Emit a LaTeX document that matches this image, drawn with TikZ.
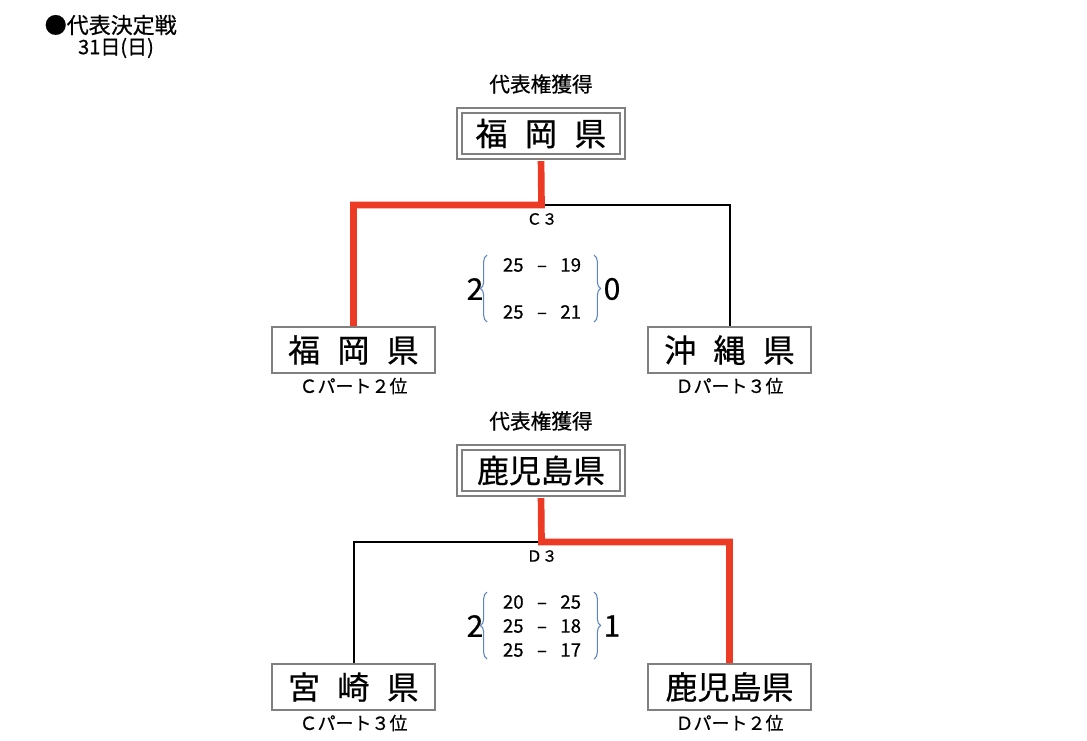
\documentclass[tikz,border=0pt]{standalone}
\usepackage{fontspec}
\setmainfont{Noto Sans CJK JP}[FakeBold=0.6]
\usetikzlibrary{decorations.pathreplacing}
\definecolor{winred}{RGB}{236,58,36}
\definecolor{boxgray}{RGB}{128,128,128}
\definecolor{braceblue}{RGB}{92,132,196}

\begin{document}
\begin{tikzpicture}[x=0.75pt, y=-0.75pt,
    team/.style={draw=boxgray, line width=1.5pt, minimum width=122pt, minimum height=34.5pt, inner sep=0pt, font=\fontsize{24}{28}\selectfont},
    winner/.style={team, double=white, double distance=2.5pt},
    small/.style={font=\fontsize{13.5}{16}\selectfont},
    score/.style={font=\fontsize{14}{16}\selectfont},
    sets/.style={font=\fontsize{22.5}{26}\selectfont},
    win/.style={draw=winred, line width=5pt},
    lose/.style={draw=black, line width=1.5pt},
    curly/.style={draw=braceblue, line width=0.8pt, decorate, decoration={brace, amplitude=5pt, aspect=0.5}}]
    \useasboundingbox (0,0) rectangle (1087,740);

    \node[anchor=west, font=\fontsize{16.5}{19}\selectfont] (title) at (40,25) {●代表決定戦};
    \node[font=\fontsize{15}{18}\selectfont] (date) at (116,48) {31日(日)};

    % C3
    \node[font=\fontsize{15.5}{18}\selectfont] (G1) at (541,84) {代表権獲得};
    \node[winner] (W1) at (541,133.5) {福\hspace{13pt}岡\hspace{13pt}県};
    \node[team] (L1) at (353.5,350) {福\hspace{13pt}岡\hspace{13pt}県};
    \node[team] (R1) at (729.5,350) {沖\hspace{13pt}縄\hspace{13pt}県};
    \node[small] (pL1) at (353.5,386) {Ｃパート２位};
    \node[small] (pR1) at (729.5,386) {Ｄパート３位};
    \coordinate (J1) at (541.5,205);
    \node[font=\fontsize{11.5}{14}\selectfont] (M1) at (542,219) {Ｃ３};
    \draw[lose] (J1) -| (R1.north);
    \draw[win, shorten <=2.75pt] (W1.south) -- (J1) -| (L1.north);
    \node[score] (S1a) at (542,265) {25\hspace{10pt}–\hspace{10pt}19};
    \node[score] (S1b) at (542,312) {25\hspace{10pt}–\hspace{10pt}21};
    \node[sets] (A1) at (475,289) {2};
    \node[sets] (B1) at (612,289) {0};
    \draw[curly] (487,322) -- (487,255);
    \draw[curly] (594,255) -- (594,322);

    % D3
    \node[font=\fontsize{15.5}{18}\selectfont] (G2) at (541,421) {代表権獲得};
    \node[winner] (W2) at (541,470.5) {鹿児島県};
    \node[team] (L2) at (353.5,687) {宮\hspace{13pt}崎\hspace{13pt}県};
    \node[team] (R2) at (729.5,687) {鹿児島県};
    \node[small] (pL2) at (353.5,723) {Ｃパート３位};
    \node[small] (pR2) at (729.5,723) {Ｄパート２位};
    \coordinate (J2) at (541.5,542);
    \node[font=\fontsize{11.5}{14}\selectfont] (M2) at (542,556) {Ｄ３};
    \draw[lose] (J2) -| (L2.north);
    \draw[win, shorten <=2.75pt] (W2.south) -- (J2) -| (R2.north);
    \node[score] (S2a) at (542,602) {20\hspace{10pt}–\hspace{10pt}25};
    \node[score] (S2b) at (542,626) {25\hspace{10pt}–\hspace{10pt}18};
    \node[score] (S2c) at (542,650) {25\hspace{10pt}–\hspace{10pt}17};
    \node[sets] (A2) at (475,626) {2};
    \node[sets] (B2) at (612,626) {1};
    \draw[curly] (487,659) -- (487,592);
    \draw[curly] (594,592) -- (594,659);
\end{tikzpicture}
\end{document}
